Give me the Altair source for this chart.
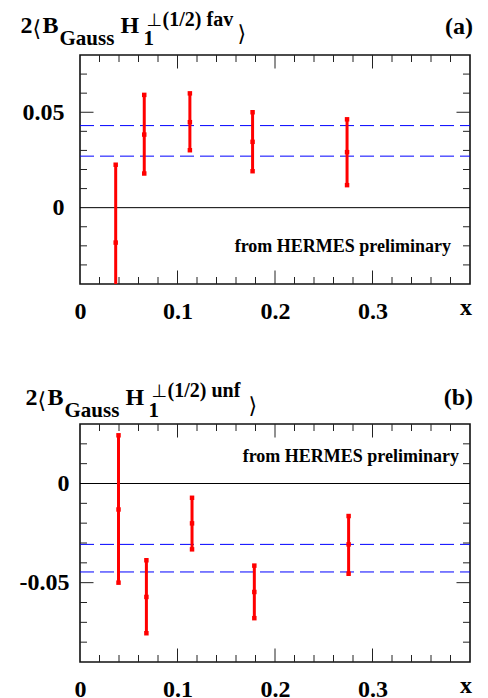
import altair as alt
import pandas as pd

FONT = "Liberation Serif"
SYM = "DejaVu Sans"

# ---------------- data ----------------
x_domain = [0, 0.4]
x_labels = [0, 0.1, 0.2, 0.3]
x_major = [0.1, 0.2, 0.3]
x_minor = [0.02, 0.04, 0.06, 0.08, 0.12, 0.14, 0.16, 0.18, 0.22, 0.24, 0.26, 0.28,
           0.32, 0.34, 0.36, 0.38]

# panel (a) : fav
a_x = [0.0366, 0.0659, 0.1127, 0.1770, 0.2739]
a_y = [-0.0183, 0.0383, 0.0448, 0.0345, 0.0291]
a_lo = [-0.0590, 0.0179, 0.0301, 0.0191, 0.0118]
a_hi = [0.0225, 0.0591, 0.0599, 0.0500, 0.0463]
a_band = [0.0430, 0.0270]
a_ydomain = [-0.04, 0.08]
a_ylabels = [0, 0.05]
a_ymajor = [0.05]
a_yminor = [-0.03, -0.02, -0.01, 0.01, 0.02, 0.03, 0.04, 0.06, 0.07]

# panel (b) : unf
b_x = [0.0395, 0.0681, 0.1149, 0.1788, 0.2755]
b_y = [-0.0131, -0.0572, -0.0201, -0.0547, -0.0307]
b_lo = [-0.0500, -0.0755, -0.0332, -0.0679, -0.0455]
b_hi = [0.0243, -0.0387, -0.0072, -0.0414, -0.0164]
b_band = [-0.0307, -0.0446]
b_ydomain = [-0.09, 0.03]
b_ylabels = [-0.05, 0]
b_ymajor = [-0.05]
b_yminor = [-0.08, -0.07, -0.06, -0.04, -0.03, -0.02, -0.01, 0.01, 0.02]

note_text = ["from HERMES preliminary"]
a_title = ["2", "⟨", "B", "Gauss", "H", "1", "⊥", "(1/2)", "fav", "⟩"]
b_title = ["2", "⟨", "B", "Gauss", "H", "1", "⊥", "(1/2)", "unf", "⟩"]
tags = ["(a)", "(b)"]
x_title = ["x"]

W = 390
MAJ = 13.5
MIN = 7


def txt(s, dx, dy, size, align="left", font=FONT, weight="bold"):
    return alt.Chart(pd.DataFrame({"t": [s]})).mark_text(
        font=font, fontWeight=weight, fontSize=size, color="black",
        align=align, baseline="alphabetic"
    ).encode(text="t:N", x=alt.value(dx), y=alt.value(dy))


def panel(xv, yv, lo, hi, band, ydom, ylabels, ymajor, yminor, H, title,
          tag, tx, ty, sx, note_dx, note_dy, ylabpad):
    xs = alt.Scale(domain=x_domain, nice=False, zero=False)
    ys = alt.Scale(domain=ydom, nice=False, zero=False)
    xax = alt.Axis(values=x_labels, domain=False, ticks=False, tickSize=0, grid=False,
                   labelExpr="datum.value == 0 ? '0' : format(datum.value, '.1f')",
                   labelFont=FONT, labelFontWeight="bold", labelFontSize=24,
                   labelColor="black", labelPadding=15, labelFlush=False,
                   labelOverlap=False, title=None)
    yax = alt.Axis(values=ylabels, domain=False, ticks=False, tickSize=0, grid=False,
                   labelExpr="datum.value == 0 ? '0' : (datum.value < 0 ? '-' : '') + format(abs(datum.value), '.2f')",
                   labelFont=FONT, labelFontWeight="bold", labelFontSize=24,
                   labelColor="black", labelPadding=ylabpad, labelFlush=False,
                   labelOverlap=False, title=None)
    X = lambda f: alt.X(f, scale=xs, axis=xax)
    Y = lambda f: alt.Y(f, scale=ys, axis=yax)

    df = pd.DataFrame({"x": xv, "y": yv, "lo": lo, "hi": hi})
    layers = []

    # zero line
    layers.append(alt.Chart(pd.DataFrame({"y": [0]})).mark_rule(
        color="black", strokeWidth=1).encode(
        y=Y("y:Q"), x=alt.value(0), x2=alt.value(W)))
    # dashed band
    layers.append(alt.Chart(pd.DataFrame({"y": band})).mark_rule(
        color="#0000ff", strokeWidth=1, strokeDash=[14, 6]).encode(
        y=Y("y:Q"), x=alt.value(0), x2=alt.value(W)))

    # ticks on all four sides
    for vals, L in ((x_major, MAJ), (x_minor, MIN)):
        d = pd.DataFrame({"x": vals})
        layers.append(alt.Chart(d).mark_rule(color="#222", strokeWidth=1).encode(
            x=X("x:Q"), y=alt.value(H), y2=alt.value(H - L)))
        layers.append(alt.Chart(d).mark_rule(color="#222", strokeWidth=1).encode(
            x=X("x:Q"), y=alt.value(0), y2=alt.value(L)))
    for vals, L in ((ymajor, MAJ), (yminor, MIN)):
        d = pd.DataFrame({"y": vals})
        layers.append(alt.Chart(d).mark_rule(color="#222", strokeWidth=1).encode(
            y=Y("y:Q"), x=alt.value(0), x2=alt.value(L)))
        layers.append(alt.Chart(d).mark_rule(color="#222", strokeWidth=1).encode(
            y=Y("y:Q"), x=alt.value(W), x2=alt.value(W - L)))

    # error bars
    layers.append(alt.Chart(df).mark_rule(color="#ff0000", strokeWidth=3, clip=True).encode(
        x=X("x:Q"), y=Y("lo:Q"), y2="hi:Q"))
    layers.append(alt.Chart(df).transform_fold(["lo", "y", "hi"], as_=["k", "v"]).mark_square(
        color="#ff0000", size=20, opacity=1, clip=True).encode(
        x=X("x:Q"), y=Y("v:Q")))

    # annotations
    layers.append(txt(note_text[0], W - note_dx, note_dy, 18, align="right"))
    layers.append(txt(x_title[0], W + 2, H + 31, 24, align="right"))
    layers.append(txt(tag, W + 3, ty + 0.5, 24, align="right"))

    # title pieces: 2 < B _Gauss H _1 ^perp ^(1/2) ^fav >
    layers.append(txt(title[0], tx, ty, 24))
    layers.append(txt(title[1], tx + 12, ty + 3, 22, font=SYM, weight="normal"))
    layers.append(txt(title[2], tx + 22, ty, 24))
    layers.append(txt(title[3], tx + 39, ty + 12, 21))
    layers.append(txt(title[4], tx + 100, ty, 24))
    layers.append(txt(title[5], tx + 123, ty + 12, 21))
    layers.append(txt(title[6], tx + 126, ty - 7.5, 18, font=SYM, weight="normal"))
    layers.append(txt(title[7], tx + 142, ty - 7.5, 20))
    layers.append(txt(title[8], tx + 186, ty - 7.5, 20))
    layers.append(txt(title[9], tx + sx, ty + 8, 22, font=SYM, weight="normal"))

    return alt.layer(*layers).properties(width=W, height=H)


pa = panel(a_x, a_y, a_lo, a_hi, a_band, a_ydomain, a_ylabels, a_ymajor, a_yminor, 229,
           a_title, tags[0], -59.5, -22, 217, 19, 196.7, 16)
pb = panel(b_x, b_y, b_lo, b_hi, b_band, b_ydomain, b_ylabels, b_ymajor, b_yminor, 238,
           b_title, tags[1], -54.5, -19.5, 223, 11, 38.4, 11)

chart = alt.vconcat(pa, pb, spacing=56).properties(
    padding={"left": 10, "top": 0, "right": 5, "bottom": 5}
).configure_view(stroke="#111", strokeWidth=1.6)

chart.save("out.html", embed_options={"renderer": "svg", "actions": False})
